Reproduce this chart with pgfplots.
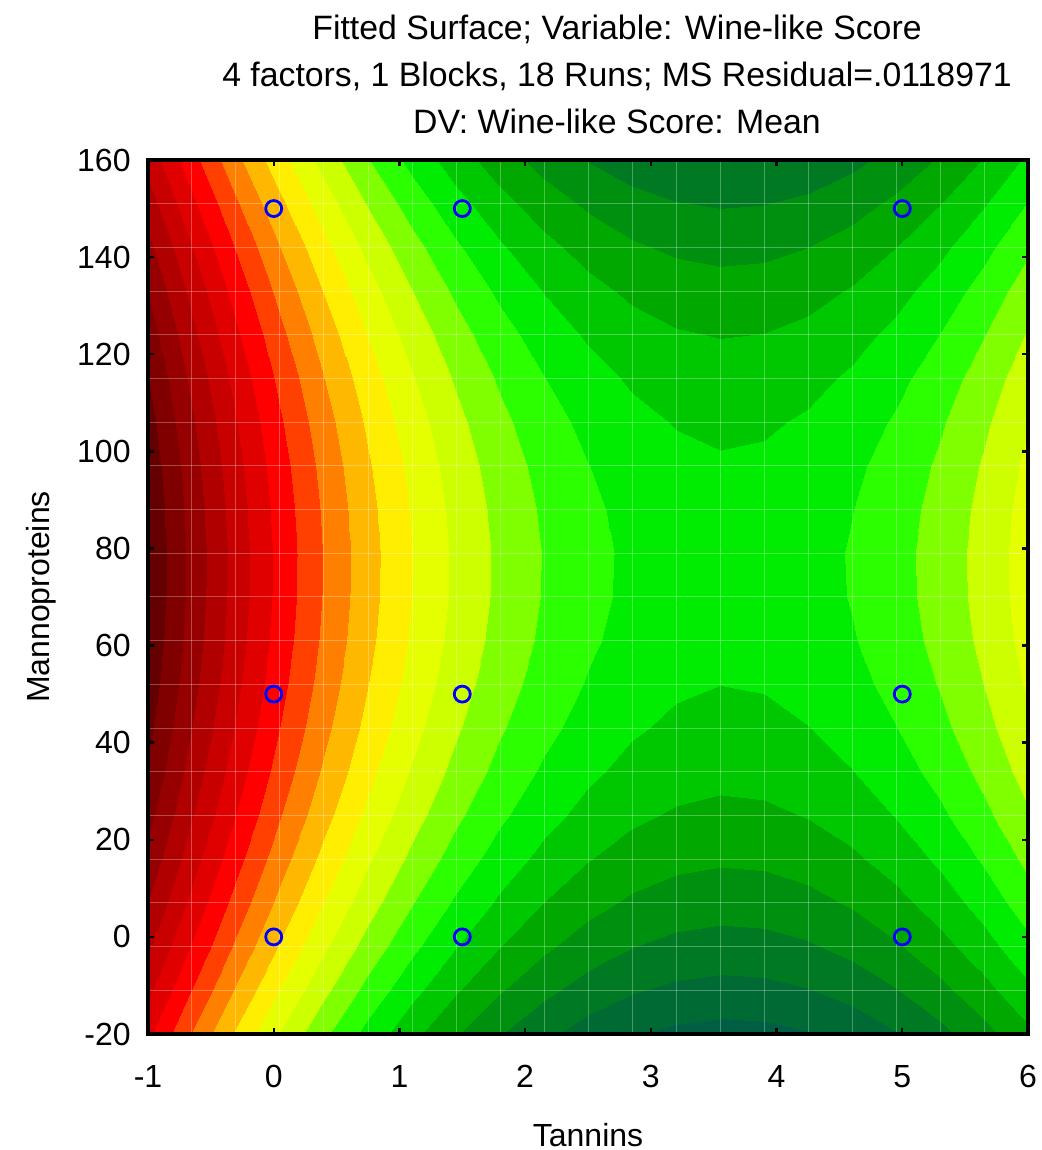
\documentclass[border=0pt]{standalone}
\usepackage{fontspec}
\setmainfont{Liberation Sans}
\usepackage{pgfplots}
\usepackage{pgfplotstable}
\pgfplotsset{compat=1.18}

% fitted surface read off the contour bands (one band = 1 unit)
\pgfplotstableread[row sep=\\]{
x y z\\
-1 -20 5.78\\ -0.65 -20 8.05\\ -0.3 -20 10.14\\ 0.05 -20 12.06\\ 0.4 -20 13.79\\ 0.75 -20 15.35\\ 1.1 -20 16.72\\ 1.45 -20 17.92\\ 1.8 -20 18.94\\ 2.15 -20 19.78\\ 2.5 -20 20.44\\ 2.85 -20 20.93\\ 3.2 -20 21.23\\ 3.55 -20 21.36\\ 3.9 -20 21.30\\ 4.25 -20 21.07\\ 4.6 -20 20.66\\ 4.95 -20 20.07\\ 5.3 -20 19.30\\ 5.65 -20 18.35\\ 6 -20 17.23\\
-1 -11 4.75\\ -0.65 -11 7.02\\ -0.3 -11 9.11\\ 0.05 -11 11.03\\ 0.4 -11 12.76\\ 0.75 -11 14.32\\ 1.1 -11 15.69\\ 1.45 -11 16.89\\ 1.8 -11 17.91\\ 2.15 -11 18.75\\ 2.5 -11 19.41\\ 2.85 -11 19.90\\ 3.2 -11 20.20\\ 3.55 -11 20.33\\ 3.9 -11 20.27\\ 4.25 -11 20.04\\ 4.6 -11 19.63\\ 4.95 -11 19.04\\ 5.3 -11 18.27\\ 5.65 -11 17.32\\ 6 -11 16.20\\
-1 -2 3.83\\ -0.65 -2 6.10\\ -0.3 -2 8.19\\ 0.05 -2 10.11\\ 0.4 -2 11.84\\ 0.75 -2 13.40\\ 1.1 -2 14.77\\ 1.45 -2 15.97\\ 1.8 -2 16.99\\ 2.15 -2 17.83\\ 2.5 -2 18.49\\ 2.85 -2 18.98\\ 3.2 -2 19.28\\ 3.55 -2 19.41\\ 3.9 -2 19.35\\ 4.25 -2 19.12\\ 4.6 -2 18.71\\ 4.95 -2 18.12\\ 5.3 -2 17.35\\ 5.65 -2 16.40\\ 6 -2 15.28\\
-1 7 3.01\\ -0.65 7 5.28\\ -0.3 7 7.37\\ 0.05 7 9.29\\ 0.4 7 11.02\\ 0.75 7 12.58\\ 1.1 7 13.95\\ 1.45 7 15.15\\ 1.8 7 16.17\\ 2.15 7 17.01\\ 2.5 7 17.67\\ 2.85 7 18.16\\ 3.2 7 18.46\\ 3.55 7 18.59\\ 3.9 7 18.53\\ 4.25 7 18.30\\ 4.6 7 17.89\\ 4.95 7 17.30\\ 5.3 7 16.53\\ 5.65 7 15.58\\ 6 7 14.46\\
-1 16 2.29\\ -0.65 16 4.56\\ -0.3 16 6.65\\ 0.05 16 8.57\\ 0.4 16 10.30\\ 0.75 16 11.86\\ 1.1 16 13.23\\ 1.45 16 14.43\\ 1.8 16 15.45\\ 2.15 16 16.29\\ 2.5 16 16.95\\ 2.85 16 17.44\\ 3.2 16 17.74\\ 3.55 16 17.87\\ 3.9 16 17.81\\ 4.25 16 17.58\\ 4.6 16 17.17\\ 4.95 16 16.58\\ 5.3 16 15.81\\ 5.65 16 14.86\\ 6 16 13.74\\
-1 25 1.67\\ -0.65 25 3.94\\ -0.3 25 6.03\\ 0.05 25 7.95\\ 0.4 25 9.68\\ 0.75 25 11.24\\ 1.1 25 12.61\\ 1.45 25 13.81\\ 1.8 25 14.83\\ 2.15 25 15.67\\ 2.5 25 16.33\\ 2.85 25 16.82\\ 3.2 25 17.12\\ 3.55 25 17.25\\ 3.9 25 17.19\\ 4.25 25 16.96\\ 4.6 25 16.55\\ 4.95 25 15.96\\ 5.3 25 15.19\\ 5.65 25 14.24\\ 6 25 13.12\\
-1 34 1.15\\ -0.65 34 3.42\\ -0.3 34 5.51\\ 0.05 34 7.43\\ 0.4 34 9.16\\ 0.75 34 10.72\\ 1.1 34 12.09\\ 1.45 34 13.29\\ 1.8 34 14.31\\ 2.15 34 15.15\\ 2.5 34 15.81\\ 2.85 34 16.30\\ 3.2 34 16.60\\ 3.55 34 16.73\\ 3.9 34 16.67\\ 4.25 34 16.44\\ 4.6 34 16.03\\ 4.95 34 15.44\\ 5.3 34 14.67\\ 5.65 34 13.72\\ 6 34 12.60\\
-1 43 0.73\\ -0.65 43 3.00\\ -0.3 43 5.09\\ 0.05 43 7.01\\ 0.4 43 8.74\\ 0.75 43 10.30\\ 1.1 43 11.67\\ 1.45 43 12.87\\ 1.8 43 13.89\\ 2.15 43 14.73\\ 2.5 43 15.39\\ 2.85 43 15.88\\ 3.2 43 16.18\\ 3.55 43 16.31\\ 3.9 43 16.25\\ 4.25 43 16.02\\ 4.6 43 15.61\\ 4.95 43 15.02\\ 5.3 43 14.25\\ 5.65 43 13.30\\ 6 43 12.18\\
-1 52 0.41\\ -0.65 52 2.68\\ -0.3 52 4.77\\ 0.05 52 6.69\\ 0.4 52 8.42\\ 0.75 52 9.98\\ 1.1 52 11.35\\ 1.45 52 12.55\\ 1.8 52 13.57\\ 2.15 52 14.41\\ 2.5 52 15.07\\ 2.85 52 15.56\\ 3.2 52 15.86\\ 3.55 52 15.99\\ 3.9 52 15.93\\ 4.25 52 15.70\\ 4.6 52 15.29\\ 4.95 52 14.70\\ 5.3 52 13.93\\ 5.65 52 12.98\\ 6 52 11.86\\
-1 61 0.19\\ -0.65 61 2.46\\ -0.3 61 4.55\\ 0.05 61 6.47\\ 0.4 61 8.20\\ 0.75 61 9.76\\ 1.1 61 11.13\\ 1.45 61 12.33\\ 1.8 61 13.35\\ 2.15 61 14.19\\ 2.5 61 14.85\\ 2.85 61 15.34\\ 3.2 61 15.64\\ 3.55 61 15.77\\ 3.9 61 15.71\\ 4.25 61 15.48\\ 4.6 61 15.07\\ 4.95 61 14.48\\ 5.3 61 13.71\\ 5.65 61 12.76\\ 6 61 11.64\\
-1 70 0.07\\ -0.65 70 2.34\\ -0.3 70 4.43\\ 0.05 70 6.35\\ 0.4 70 8.08\\ 0.75 70 9.64\\ 1.1 70 11.01\\ 1.45 70 12.21\\ 1.8 70 13.23\\ 2.15 70 14.07\\ 2.5 70 14.73\\ 2.85 70 15.22\\ 3.2 70 15.52\\ 3.55 70 15.65\\ 3.9 70 15.59\\ 4.25 70 15.36\\ 4.6 70 14.95\\ 4.95 70 14.36\\ 5.3 70 13.59\\ 5.65 70 12.64\\ 6 70 11.52\\
-1 79 0.05\\ -0.65 79 2.32\\ -0.3 79 4.41\\ 0.05 79 6.33\\ 0.4 79 8.06\\ 0.75 79 9.62\\ 1.1 79 10.99\\ 1.45 79 12.19\\ 1.8 79 13.21\\ 2.15 79 14.05\\ 2.5 79 14.71\\ 2.85 79 15.20\\ 3.2 79 15.50\\ 3.55 79 15.63\\ 3.9 79 15.57\\ 4.25 79 15.34\\ 4.6 79 14.93\\ 4.95 79 14.34\\ 5.3 79 13.57\\ 5.65 79 12.62\\ 6 79 11.50\\
-1 88 0.14\\ -0.65 88 2.41\\ -0.3 88 4.50\\ 0.05 88 6.42\\ 0.4 88 8.15\\ 0.75 88 9.71\\ 1.1 88 11.08\\ 1.45 88 12.28\\ 1.8 88 13.30\\ 2.15 88 14.14\\ 2.5 88 14.80\\ 2.85 88 15.29\\ 3.2 88 15.59\\ 3.55 88 15.72\\ 3.9 88 15.66\\ 4.25 88 15.43\\ 4.6 88 15.02\\ 4.95 88 14.43\\ 5.3 88 13.66\\ 5.65 88 12.71\\ 6 88 11.59\\
-1 97 0.32\\ -0.65 97 2.59\\ -0.3 97 4.68\\ 0.05 97 6.60\\ 0.4 97 8.33\\ 0.75 97 9.89\\ 1.1 97 11.26\\ 1.45 97 12.46\\ 1.8 97 13.48\\ 2.15 97 14.32\\ 2.5 97 14.98\\ 2.85 97 15.47\\ 3.2 97 15.77\\ 3.55 97 15.90\\ 3.9 97 15.84\\ 4.25 97 15.61\\ 4.6 97 15.20\\ 4.95 97 14.61\\ 5.3 97 13.84\\ 5.65 97 12.89\\ 6 97 11.77\\
-1 106 0.60\\ -0.65 106 2.87\\ -0.3 106 4.96\\ 0.05 106 6.88\\ 0.4 106 8.61\\ 0.75 106 10.17\\ 1.1 106 11.54\\ 1.45 106 12.74\\ 1.8 106 13.76\\ 2.15 106 14.60\\ 2.5 106 15.26\\ 2.85 106 15.75\\ 3.2 106 16.05\\ 3.55 106 16.18\\ 3.9 106 16.12\\ 4.25 106 15.89\\ 4.6 106 15.48\\ 4.95 106 14.89\\ 5.3 106 14.12\\ 5.65 106 13.17\\ 6 106 12.05\\
-1 115 0.98\\ -0.65 115 3.25\\ -0.3 115 5.34\\ 0.05 115 7.26\\ 0.4 115 8.99\\ 0.75 115 10.55\\ 1.1 115 11.92\\ 1.45 115 13.12\\ 1.8 115 14.14\\ 2.15 115 14.98\\ 2.5 115 15.64\\ 2.85 115 16.13\\ 3.2 115 16.43\\ 3.55 115 16.56\\ 3.9 115 16.50\\ 4.25 115 16.27\\ 4.6 115 15.86\\ 4.95 115 15.27\\ 5.3 115 14.50\\ 5.65 115 13.55\\ 6 115 12.43\\
-1 124 1.46\\ -0.65 124 3.73\\ -0.3 124 5.82\\ 0.05 124 7.74\\ 0.4 124 9.47\\ 0.75 124 11.03\\ 1.1 124 12.40\\ 1.45 124 13.60\\ 1.8 124 14.62\\ 2.15 124 15.46\\ 2.5 124 16.12\\ 2.85 124 16.61\\ 3.2 124 16.91\\ 3.55 124 17.04\\ 3.9 124 16.98\\ 4.25 124 16.75\\ 4.6 124 16.34\\ 4.95 124 15.75\\ 5.3 124 14.98\\ 5.65 124 14.03\\ 6 124 12.91\\
-1 133 2.04\\ -0.65 133 4.31\\ -0.3 133 6.40\\ 0.05 133 8.32\\ 0.4 133 10.05\\ 0.75 133 11.61\\ 1.1 133 12.98\\ 1.45 133 14.18\\ 1.8 133 15.20\\ 2.15 133 16.04\\ 2.5 133 16.70\\ 2.85 133 17.19\\ 3.2 133 17.49\\ 3.55 133 17.62\\ 3.9 133 17.56\\ 4.25 133 17.33\\ 4.6 133 16.92\\ 4.95 133 16.33\\ 5.3 133 15.56\\ 5.65 133 14.61\\ 6 133 13.49\\
-1 142 2.72\\ -0.65 142 4.99\\ -0.3 142 7.08\\ 0.05 142 9.00\\ 0.4 142 10.73\\ 0.75 142 12.29\\ 1.1 142 13.66\\ 1.45 142 14.86\\ 1.8 142 15.88\\ 2.15 142 16.72\\ 2.5 142 17.38\\ 2.85 142 17.87\\ 3.2 142 18.17\\ 3.55 142 18.30\\ 3.9 142 18.24\\ 4.25 142 18.01\\ 4.6 142 17.60\\ 4.95 142 17.01\\ 5.3 142 16.24\\ 5.65 142 15.29\\ 6 142 14.17\\
-1 151 3.50\\ -0.65 151 5.77\\ -0.3 151 7.86\\ 0.05 151 9.78\\ 0.4 151 11.51\\ 0.75 151 13.07\\ 1.1 151 14.44\\ 1.45 151 15.64\\ 1.8 151 16.66\\ 2.15 151 17.50\\ 2.5 151 18.16\\ 2.85 151 18.65\\ 3.2 151 18.95\\ 3.55 151 19.08\\ 3.9 151 19.02\\ 4.25 151 18.79\\ 4.6 151 18.38\\ 4.95 151 17.79\\ 5.3 151 17.02\\ 5.65 151 16.07\\ 6 151 14.95\\
-1 160 4.38\\ -0.65 160 6.65\\ -0.3 160 8.74\\ 0.05 160 10.66\\ 0.4 160 12.39\\ 0.75 160 13.95\\ 1.1 160 15.32\\ 1.45 160 16.52\\ 1.8 160 17.54\\ 2.15 160 18.38\\ 2.5 160 19.04\\ 2.85 160 19.53\\ 3.2 160 19.83\\ 3.55 160 19.96\\ 3.9 160 19.90\\ 4.25 160 19.67\\ 4.6 160 19.26\\ 4.95 160 18.67\\ 5.3 160 17.90\\ 5.65 160 16.95\\ 6 160 15.83\\
}\surfdata

% design points
\pgfplotstableread{
x y
0 150
1.5 150
5 150
0 50
1.5 50
5 50
0 0
1.5 0
5 0
}\runs

\begin{document}
\begin{tikzpicture}
\path[use as bounding box] (-74pt,-58pt) rectangle (446.5pt,517pt);
\begin{axis}[
  at={(0,0)}, anchor=south west,
  scale only axis, width=440pt, height=437pt,
  xmin=-1, xmax=6, ymin=-20, ymax=160,
  xtick={-1,0,...,6}, ytick={-20,0,...,160},
  tick align=inside, major tick length=3pt,
  axis line style={line width=1.6pt},
  every tick/.style={black, line width=1.2pt},
  axis on top,
  font=\fontsize{16}{19}\selectfont,
  /pgf/number format/assume math mode=true,
  xticklabel style={anchor=base, inner sep=0pt},
  xticklabel shift=26.5pt,
  yticklabel style={anchor=east, inner sep=0pt},
  yticklabel shift=8.5pt,
  every axis x label/.style={at={(axis description cs:0.5,0)}, anchor=base, yshift=-56pt},
  every axis y label/.style={at={(axis description cs:-0.1114,0.5)}, anchor=base, rotate=90},
  xlabel={Tannins}, ylabel={Mannoproteins},
  colormap access=piecewise constant,
  point meta min=0, point meta max=22,
  colormap={stat}{
    rgb255=(100,0,0) rgb255=(128,0,0) rgb255=(150,0,0) rgb255=(176,0,0)
    rgb255=(200,0,0) rgb255=(224,0,0) rgb255=(255,0,0) rgb255=(255,64,0)
    rgb255=(255,128,0) rgb255=(255,184,0) rgb255=(255,238,0) rgb255=(230,255,0)
    rgb255=(204,255,0) rgb255=(128,255,0) rgb255=(44,255,0) rgb255=(0,236,0)
    rgb255=(0,200,0) rgb255=(0,168,0) rgb255=(0,144,16) rgb255=(0,122,34)
    rgb255=(0,106,52) rgb255=(0,94,68)
  },
]
\addplot[surf, shader=interp, mesh/cols=21, mesh/rows=21, point meta=explicit]
  table[x=x, y=y, meta=z] {\surfdata};
\addplot[surf, shader=faceted, mesh/cols=21, mesh/rows=21, point meta=explicit,
  fill opacity=0, faceted color=white, draw opacity=0.16, line width=0.5pt]
  table[x=x, y=y, meta=z] {\surfdata};
\addplot[only marks, mark=o, mark size=4pt, blue, mark options={line width=1.4pt}]
  table[x=x, y=y] {\runs};
\end{axis}
\begin{scope}[every node/.style={anchor=base, font=\fontsize{16.9}{19}\selectfont}]
\node at (234.5pt,497pt) {Fitted Surface; Variable: Wine-like Score};
\node at (234.5pt,473.5pt) {4 factors, 1 Blocks, 18 Runs; MS Residual=.0118971};
\node at (234.5pt,450pt) {DV: Wine-like Score: Mean};
\end{scope}
\end{tikzpicture}
\end{document}
